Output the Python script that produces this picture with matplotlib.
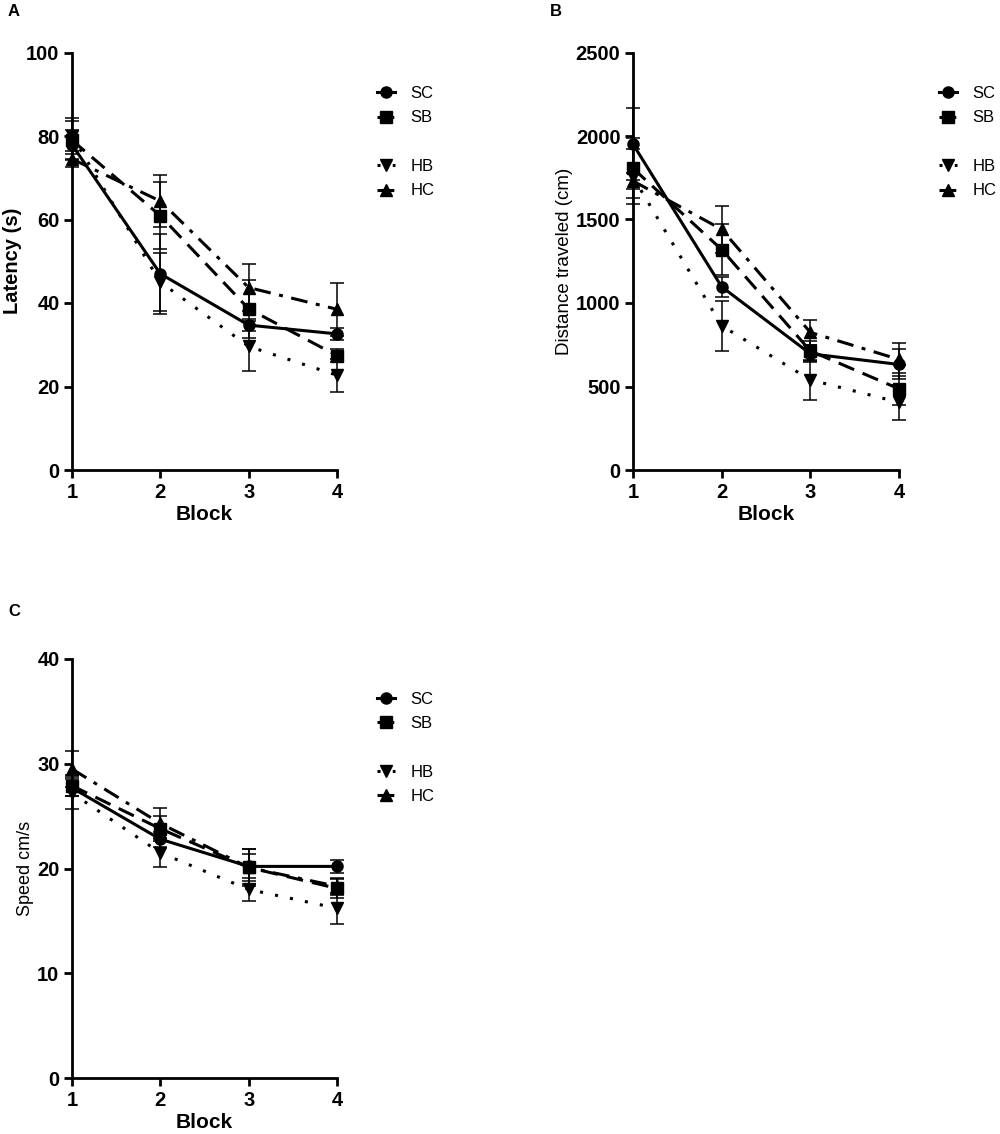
import matplotlib
matplotlib.use("Agg")
import matplotlib.pyplot as plt
from matplotlib.lines import Line2D

plt.rcParams['font.family'] = ['Liberation Sans', 'DejaVu Sans']

blocks = [1, 2, 3, 4]
groups = ['SC', 'SB', 'HB', 'HC']

latency = {
    'SC': [77.9, 47.0, 34.7, 32.6],
    'SB': [79.0, 60.9, 38.6, 27.4],
    'HB': [80.0, 45.0, 29.6, 22.7],
    'HC': [74.5, 64.4, 43.7, 38.5],
}
latency_err = {
    'SC': [3.5, 9.6, 1.5, 1.4],
    'SB': [4.7, 8.0, 7.0, 1.5],
    'HB': [4.4, 7.0, 6.0, 3.9],
    'HC': [2.0, 6.3, 5.7, 6.4],
}
distance = {
    'SC': [1951, 1097, 696, 632],
    'SB': [1806, 1320, 713, 486],
    'HB': [1755, 864, 540, 405],
    'HC': [1731, 1441, 824, 662],
}
distance_err = {
    'SC': [215, 60, 50, 90],
    'SB': [180, 155, 60, 95],
    'HB': [165, 150, 118, 103],
    'HC': [50, 140, 75, 100],
}
speed = {
    'SC': [27.7, 22.8, 20.2, 20.2],
    'SB': [27.9, 23.8, 20.1, 18.1],
    'HB': [27.2, 21.5, 18.0, 16.2],
    'HC': [29.5, 24.3, 20.1, 18.3],
}
speed_err = {
    'SC': [0.8, 0.7, 1.7, 0.6],
    'SB': [1.0, 1.2, 1.3, 0.9],
    'HB': [1.5, 1.4, 1.1, 1.5],
    'HC': [1.7, 1.5, 1.8, 0.8],
}

styles = {
    'SC': dict(marker='o', linestyle='-'),
    'SB': dict(marker='s', linestyle=(0, (5.5, 3))),
    'HB': dict(marker='v', linestyle=(0, (1, 4))),
    'HC': dict(marker='^', linestyle=(0, (5.5, 2.8, 1.3, 2.8))),
}

W, H = 1000, 1134
fig = plt.figure(figsize=(W / 100, H / 100), dpi=100)


def rect(x0, x1, ytop, ybot):
    return [x0 / W, 1 - ybot / H, (x1 - x0) / W, (ybot - ytop) / H]


panels = [
    ('A', rect(72, 337, 52.5, 470), latency, latency_err, (0, 100), [0, 20, 40, 60, 80, 100],
     'Latency (s)', 'bold', 14.5, -0.226, (8, 12), 94),
    ('B', rect(633, 899, 52.5, 470), distance, distance_err, (0, 2500), [0, 500, 1000, 1500, 2000, 2500],
     'Distance traveled (cm)', 'normal', 13.5, -0.256, (550, 12), 94),
    ('C', rect(72, 337, 659, 1078), speed, speed_err, (0, 40), [0, 10, 20, 30, 40],
     'Speed cm/s', 'normal', 13, -0.177, (8, 612), 700),
]

for letter, r, data, err, ylim, yticks, ylabel, ylw, ylfs, ylx, lpos, legy in panels:
    ax = fig.add_axes(r)
    handles = []
    for g in groups:
        st = styles[g]
        ax.errorbar(blocks, data[g], yerr=err[g], fmt='none', ecolor='black',
                    elinewidth=1.1, capsize=5, capthick=1.1, clip_on=False, zorder=2)
        ln, = ax.plot(blocks, data[g], color='black', lw=2.2, marker=st['marker'],
                      ms=8, linestyle=st['linestyle'], clip_on=False, zorder=3)
        handles.append(ln)
    ax.set_xlim(1, 4)
    ax.set_ylim(*ylim)
    ax.set_xticks(blocks)
    ax.set_yticks(yticks)
    for s in ['top', 'right']:
        ax.spines[s].set_visible(False)
    for s in ['left', 'bottom']:
        ax.spines[s].set_linewidth(2)
    ax.tick_params(axis='both', width=2, length=6, direction='out', labelsize=14.5, pad=3)
    for lab in ax.get_xticklabels() + ax.get_yticklabels():
        lab.set_fontweight('bold')
    ax_h_px = r[3] * H
    ax.set_xlabel('Block', fontsize=15, fontweight='bold')
    ax.xaxis.label.set_va('center')
    ax.xaxis.set_label_coords(0.5, -45 / ax_h_px)
    ax.set_ylabel(ylabel, fontsize=ylfs, fontweight=ylw)
    ax.yaxis.label.set_va('center')
    ax.yaxis.set_label_coords(ylx, 0.5)

    spacer = Line2D([], [], linestyle='none', marker=None)
    leg_handles = [handles[0], handles[1], spacer, handles[2], handles[3]]
    leg_labels = ['SC', 'SB', '', 'HB', 'HC']
    bb = ax.get_position()
    leg = ax.legend(leg_handles, leg_labels, loc='upper left',
                    bbox_to_anchor=(bb.x1 + 0.040, 1 - (legy - 8) / H),
                    bbox_transform=fig.transFigure, frameon=False,
                    fontsize=12, handlelength=1.1, handletextpad=0.9,
                    labelspacing=0.56, borderpad=0, borderaxespad=0)
    for h in leg.legend_handles:
        h.set_markersize(8)

    fig.text(lpos[0] / W, 1 - lpos[1] / H, letter, fontsize=12, fontweight='bold',
             va='center', ha='left')

fig.savefig('out.png', dpi=100)
